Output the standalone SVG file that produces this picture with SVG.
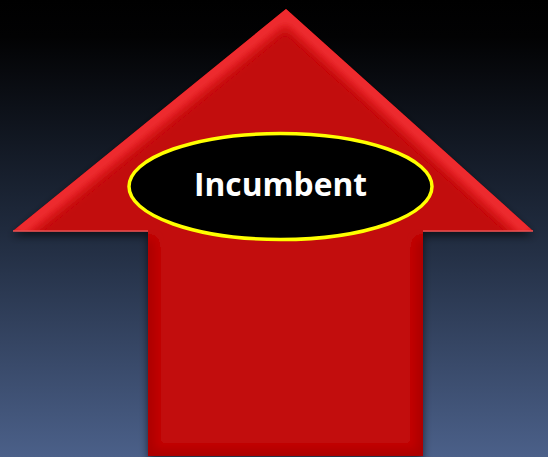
<svg xmlns="http://www.w3.org/2000/svg" width="548" height="457" viewBox="0 0 548 457">
<defs>
<linearGradient id="bg" x1="0" y1="0" x2="0" y2="1">
<stop offset="0" stop-color="#000000"/>
<stop offset="0.08" stop-color="#020203"/>
<stop offset="0.5" stop-color="#1f2a3d"/>
<stop offset="1" stop-color="#4b6089"/>
</linearGradient>
<clipPath id="ac">
<polygon points="286,9 533,231 423,231 423,456 148,456 148,231 13,231"/>
</clipPath>
<filter id="bl" x="-10%" y="-10%" width="120%" height="120%">
<feGaussianBlur stdDeviation="5"/>
</filter>
<filter id="ds" x="-10%" y="-10%" width="120%" height="130%">
<feGaussianBlur in="SourceAlpha" stdDeviation="4"/>
<feOffset dy="4"/>
<feComponentTransfer><feFuncA type="linear" slope="0.6"/></feComponentTransfer>
<feMerge><feMergeNode/><feMergeNode in="SourceGraphic"/></feMerge>
</filter>
<style>
.lbl{font-family:"Open Sans",Lato,"Liberation Sans",sans-serif;font-weight:bold;font-size:32px;fill:#ffffff}
</style>
</defs>
<rect width="548" height="457" fill="url(#bg)"/>
<g id="arrow" filter="url(#ds)">
<polygon points="286,9 533,231 423,231 423,456 148,456 148,231 13,231" fill="#c20707"/>
<g clip-path="url(#ac)">
<polyline points="13,231 286,9 533,231" fill="none" stroke="#ee2a2e" stroke-width="26" filter="url(#bl)"/>
<polyline points="148,240 148,456 423,456 423,240" fill="none" stroke="#aa0505" stroke-width="12" filter="url(#bl)"/>
<line x1="13" y1="231" x2="148" y2="231" stroke="#d81a1c" stroke-width="10" filter="url(#bl)"/>
<line x1="423" y1="231" x2="533" y2="231" stroke="#d81a1c" stroke-width="10" filter="url(#bl)"/>
</g>
<line x1="13" y1="231" x2="148" y2="231" stroke="#e85050" stroke-width="1.5"/>
<line x1="423" y1="231" x2="533" y2="231" stroke="#e85050" stroke-width="1.5"/>
</g>
<g id="incumbent">
<ellipse cx="280.5" cy="186.5" rx="151.5" ry="53" fill="#000000" stroke="#ffff00" stroke-width="3.5"/>
<text class="lbl" x="280.5" y="196" text-anchor="middle" textLength="173" lengthAdjust="spacingAndGlyphs">Incumbent</text>
</g>
</svg>
